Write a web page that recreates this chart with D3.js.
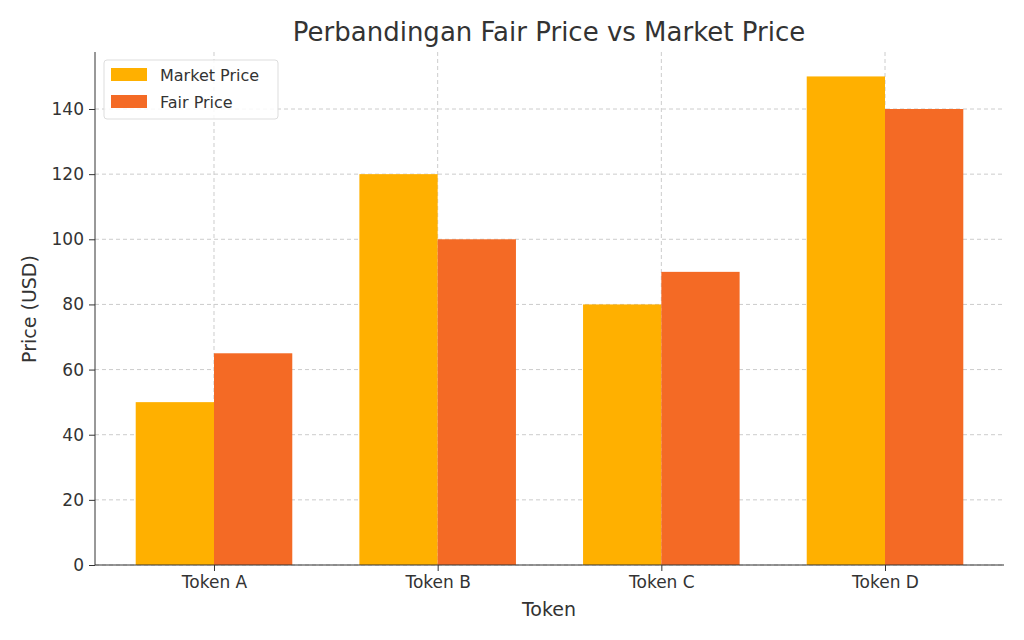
<!DOCTYPE html>
<html>
<head>
<meta charset="utf-8">
<script src="https://cdn.jsdelivr.net/npm/d3@7"></script>
<style>
  body { margin: 0; background: #fff; }
  text { font-family: "DejaVu Sans", sans-serif; fill: #333; }
</style>
</head>
<body>
<svg id="chart" width="1024" height="640"></svg>
<script>
const tokens = ["Token A", "Token B", "Token C", "Token D"]
const marketPrice = [50, 120, 80, 150]
const fairPrice = [65, 100, 90, 140]
const yTicks = [0, 20, 40, 60, 80, 100, 120, 140]

const margin = { left: 95, right: 20, top: 52, bottom: 75 }
const width = 1024, height = 640
const svg = d3.select("#chart")

const x = d3.scaleLinear().domain([-0.532, 3.532]).range([margin.left, width - margin.right])
const y = d3.scaleLinear().domain([0, 157.5]).range([height - margin.bottom, margin.top])
const barW = 0.35

// grid
svg.append("g").selectAll("line").data(yTicks).join("line")
  .attr("x1", margin.left).attr("x2", width - margin.right)
  .attr("y1", d => y(d)).attr("y2", d => y(d))
  .attr("stroke", "#ccc").attr("stroke-dasharray", "4,3")
svg.append("g").selectAll("line").data(tokens).join("line")
  .attr("x1", (d, i) => x(i)).attr("x2", (d, i) => x(i))
  .attr("y1", margin.top).attr("y2", height - margin.bottom)
  .attr("stroke", "#ccc").attr("stroke-dasharray", "4,3")

// bars
const series = [
  { name: "Market Price", values: marketPrice, color: "#FFB000", off: -barW },
  { name: "Fair Price", values: fairPrice, color: "#F46A25", off: 0 }
]
series.forEach(s => {
  svg.append("g").selectAll("rect").data(s.values).join("rect")
    .attr("x", (d, i) => x(i + s.off))
    .attr("width", x(barW) - x(0))
    .attr("y", d => y(d))
    .attr("height", d => y(0) - y(d))
    .attr("fill", s.color)
})

// axes
const yAxis = svg.append("g").attr("transform", `translate(${margin.left},0)`)
  .call(d3.axisLeft(y).tickValues(yTicks).tickSize(6).tickPadding(5))
const xAxis = svg.append("g").attr("transform", `translate(0,${height - margin.bottom})`)
  .call(d3.axisBottom(x).tickValues([0, 1, 2, 3]).tickFormat(i => tokens[i]).tickSize(6).tickPadding(5))
;[xAxis, yAxis].forEach(a => {
  a.selectAll("text").style("font-size", "17px").style("font-family", "DejaVu Sans").attr("fill", "#333")
  a.selectAll("line").attr("stroke", "#333")
  a.select(".domain").attr("stroke", "#333")
})
yAxis.select(".domain").attr("d", `M0,${height - margin.bottom}V${margin.top}`)
xAxis.select(".domain").attr("d", `M${margin.left},0H${width - margin.right}`)

// labels
svg.append("text").attr("x", 549).attr("y", 41).attr("text-anchor", "middle")
  .style("font-size", "26px").text("Perbandingan Fair Price vs Market Price")
svg.append("text").attr("x", 549).attr("y", 616).attr("text-anchor", "middle")
  .style("font-size", "19px").text("Token")
svg.append("text").attr("transform", "translate(36,309) rotate(-90)").attr("text-anchor", "middle")
  .style("font-size", "19px").text("Price (USD)")

// legend
const lg = svg.append("g")
lg.append("rect").attr("x", 104).attr("y", 60).attr("width", 174).attr("height", 59).attr("rx", 3)
  .attr("fill", "#fff").attr("fill-opacity", 0.85).attr("stroke", "#ddd")
series.forEach((s, i) => {
  lg.append("rect").attr("x", 111).attr("y", 68 + i * 27).attr("width", 36).attr("height", 13).attr("fill", s.color)
  lg.append("text").attr("x", 160).attr("y", 81 + i * 27).style("font-size", "16px").text(s.name)
})
</script>
</body>
</html>
